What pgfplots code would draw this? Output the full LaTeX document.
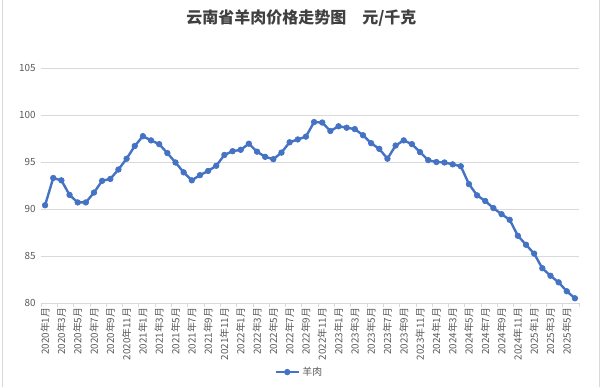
\documentclass[border=0pt]{standalone}
\usepackage{fontspec}
\setmainfont{Noto Sans CJK SC}
\usepackage{pgfplots}
\pgfplotsset{compat=1.18}
\usepackage{pgfplotstable}
\definecolor{lineblue}{HTML}{4472C4}
\definecolor{gridgray}{HTML}{D9D9D9}
\definecolor{labelgray}{HTML}{595959}
\definecolor{titlegray}{HTML}{404040}
\pgfplotstableread{
x y
0 90.4
1 93.3
2 93.05
3 91.5
4 90.7
5 90.7
6 91.75
7 93.0
8 93.2
9 94.2
10 95.35
11 96.7
12 97.75
13 97.3
14 96.9
15 95.95
16 94.95
17 93.9
18 93.05
19 93.6
20 94.05
21 94.6
22 95.75
23 96.15
24 96.3
25 96.95
26 96.1
27 95.55
28 95.3
29 96.0
30 97.1
31 97.4
32 97.7
33 99.25
34 99.2
35 98.3
36 98.8
37 98.65
38 98.5
39 97.85
40 97.0
41 96.4
42 95.35
43 96.75
44 97.3
45 96.9
46 96.05
47 95.2
48 95.0
49 94.95
50 94.75
51 94.55
52 92.65
53 91.45
54 90.85
55 90.1
56 89.45
57 88.85
58 87.15
59 86.2
60 85.25
61 83.7
62 82.9
63 82.2
64 81.25
65 80.5
}\mutton
\begin{document}
\begin{tikzpicture}
\useasboundingbox (0,0) rectangle (450pt,290.25pt);
\draw[gridgray, line width=0.6pt] (1.5pt,0) -- (1.5pt,290.25pt);
\draw[gridgray, line width=0.6pt] (449.2pt,0) -- (449.2pt,290.25pt);
\node[font=\fontsize{12pt}{14pt}\bfseries, text=titlegray] at (226pt,276.5pt) {云南省羊肉价格走势图\hspace{1em}元/千克};
\begin{axis}[
  at={(30.75pt,63pt)}, anchor=south west,
  scale only axis,
  width=403.5pt, height=176.25pt,
  xmin=-0.5, xmax=65.5,
  ymin=80, ymax=105,
  ytick={80,85,...,105},
  xtick={0,2,...,64},
  xticklabels={2020年1月,2020年3月,2020年5月,2020年7月,2020年9月,2020年11月,
    2021年1月,2021年3月,2021年5月,2021年7月,2021年9月,2021年11月,
    2022年1月,2022年3月,2022年5月,2022年7月,2022年9月,2022年11月,
    2023年1月,2023年3月,2023年5月,2023年7月,2023年9月,2023年11月,
    2024年1月,2024年3月,2024年5月,2024年7月,2024年9月,2024年11月,
    2025年1月,2025年3月,2025年5月},
  minor xtick={-0.5,1.5,...,65.5},
  major tick length=0pt,
  minor tick length=3pt,
  tick align=outside,
  axis x line*=bottom,
  axis y line*=left,
  y axis line style={draw=none},
  x axis line style={draw=gridgray, line width=0.6pt},
  minor tick style={draw=gridgray, line width=0.6pt},
  ymajorgrids,
  grid style={draw=gridgray, line width=0.6pt},
  ytick style={draw=none},
  /pgf/number format/assume math mode=true,
  tick label style={font=\fontsize{7.4pt}{8pt}\selectfont, text=labelgray},
  xticklabel style={rotate=90, anchor=east, yshift=0pt, xshift=0pt},
  yticklabel style={xshift=-0.5pt},
  legend style={at={(axis description cs:0.481,-0.294)}, anchor=center, draw=none,
    font=\fontsize{7.4pt}{8pt}\selectfont, text=labelgray, inner sep=1pt},
  legend cell align=left,
]
\addplot[color=lineblue, line width=1.8pt, mark=*, mark size=2.1pt,
  mark options={fill=lineblue, draw=lineblue, line width=0.5pt}] table[x=x,y=y] {\mutton};
\addlegendentry{羊肉}
\end{axis}
\end{tikzpicture}
\end{document}
